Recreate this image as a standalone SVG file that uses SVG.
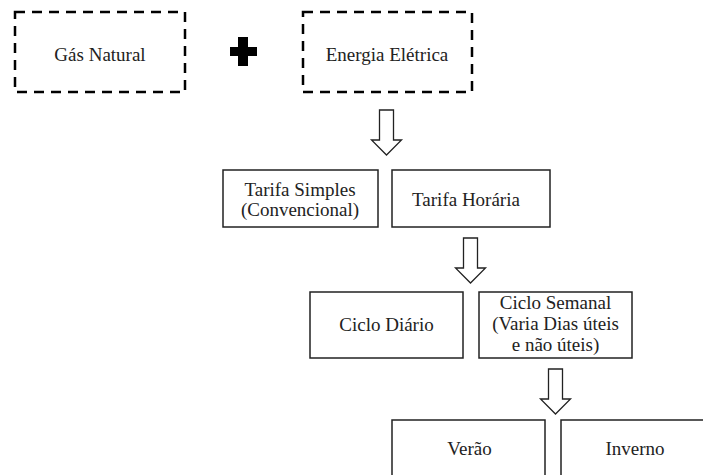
<svg xmlns="http://www.w3.org/2000/svg" width="703" height="475" viewBox="0 0 703 475">
<defs>
<style>
.dash{fill:none;stroke:#000;stroke-width:2.5;stroke-dasharray:10 7}
.box{fill:#fff;stroke:#222;stroke-width:1.5}
.t{font-size:19px;fill:#222;text-anchor:middle}
.arr{fill:#fff;stroke:#222;stroke-width:1.3;stroke-linejoin:miter}
</style>
<path id="blockArrow" d="M-7,0 H7 V30 H15 L0,45 L-15,30 H-7 Z"/>
</defs>
<rect width="703" height="475" fill="#fff"/>
<g font-family="'Liberation Serif', 'Times New Roman', Times, serif">
<g id="gas-natural">
<rect class="dash" x="15" y="12" width="170" height="80"/>
<text class="t" x="100" y="61">Gás Natural</text>
</g>
<g id="plus">
<path d="M238,37 H248 V47 H257 V56 H248 V66 H238 V56 H230 V47 H238 Z" fill="#000"/>
</g>
<g id="energia-eletrica">
<rect class="dash" x="303" y="12" width="169" height="80"/>
<text class="t" x="387" y="61">Energia Elétrica</text>
</g>
<g id="tarifa-simples">
<rect class="box" x="223" y="170" width="155" height="57"/>
<text class="t" x="300" y="196">Tarifa Simples</text>
<text class="t" x="300" y="216">(Convencional)</text>
</g>
<g id="tarifa-horaria">
<rect class="box" x="392" y="170" width="158" height="57"/>
<text class="t" x="466" y="206">Tarifa Horária</text>
</g>
<g id="ciclo-diario">
<rect class="box" x="310" y="292" width="153" height="66"/>
<text class="t" x="386.5" y="331">Ciclo Diário</text>
</g>
<g id="ciclo-semanal">
<rect class="box" x="479" y="292" width="153" height="66"/>
<text class="t" x="555.5" y="309">Ciclo Semanal</text>
<text class="t" x="555.5" y="330">(Varia Dias úteis</text>
<text class="t" x="555.5" y="351">e não úteis)</text>
</g>
<g id="verao">
<rect class="box" x="392" y="420" width="153" height="70"/>
<text class="t" x="469.5" y="455">Verão</text>
</g>
<g id="inverno">
<rect class="box" x="561" y="420" width="160" height="70"/>
<text class="t" x="635" y="455">Inverno</text>
</g>
</g>
<g id="connectors">
<use href="#blockArrow" class="arr" transform="translate(386.5,110)"/>
<use href="#blockArrow" class="arr" transform="translate(470.5,238)"/>
<use href="#blockArrow" class="arr" transform="translate(555.5,369)"/>
</g>
</svg>
